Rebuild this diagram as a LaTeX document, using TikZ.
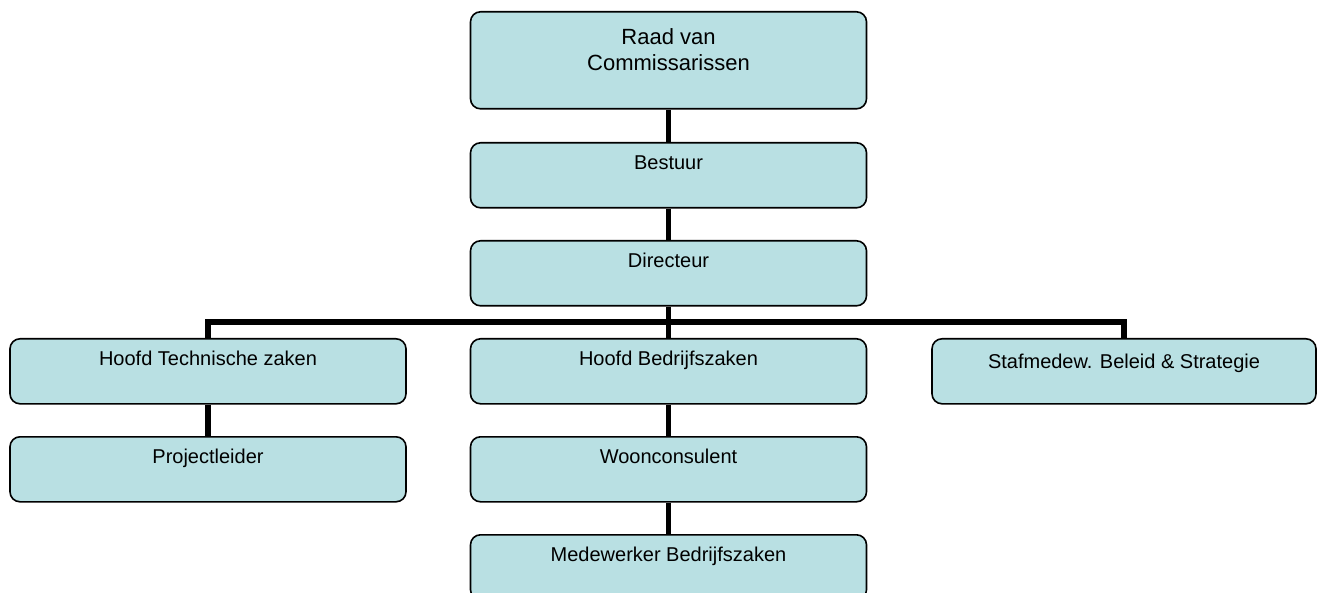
\documentclass[tikz,border=0pt]{standalone}
\usepackage{fontspec}
\setmainfont{Liberation Sans}
\definecolor{boxfill}{RGB}{185,224,227}

\begin{document}
\begin{tikzpicture}[x=1pt,y=-1pt,
            box/.style={draw,line width=1.6pt,rounded corners=10pt,fill=boxfill,anchor=north,
                inner xsep=0pt,inner ysep=0pt,text height=27pt,text depth=38pt,
                font=\fontsize{20}{23}\selectfont},
            wide/.style={box,minimum width=396pt},
            link/.style={line width=5.5pt}]
            \useasboundingbox (0,0) rectangle (1319,593);
            \node[wide,text height=59pt,text depth=38pt,align=center,font=\fontsize{22}{26.5}\selectfont] (raad) at (668.5,11) {Raad van\\Commissarissen};
            \node[wide] (bestuur) at (668.5,142) {Bestuur};
            \node[wide] (directeur) at (668.5,240) {Directeur};
            \node[wide] (htech) at (208,338) {Hoofd Technische zaken};
            \node[wide] (hbedrijf) at (668.5,338) {Hoofd Bedrijfszaken};
            \node[box,minimum width=384pt,text height=30pt,text depth=35pt] (staf) at (1124,338) {Stafmedew. Beleid \& Strategie};
            \node[wide] (project) at (208,436) {Projectleider};
            \node[wide] (woon) at (668.5,436) {Woonconsulent};
            \node[wide] (medew) at (668.5,534) {Medewerker Bedrijfszaken};
            \coordinate (bar) at (668.5,322);
            \draw[link] (raad) -- (bestuur);
            \draw[link] (bestuur) -- (directeur);
            \draw[link] (directeur) -- (hbedrijf);
            \draw[link] (htech.north) -- (htech.north |- bar) -- (staf.north |- bar) -- (staf.north);
            \draw[link] (htech) -- (project);
            \draw[link] (hbedrijf) -- (woon);
            \draw[link] (woon) -- (medew);
\end{tikzpicture}
\end{document}
